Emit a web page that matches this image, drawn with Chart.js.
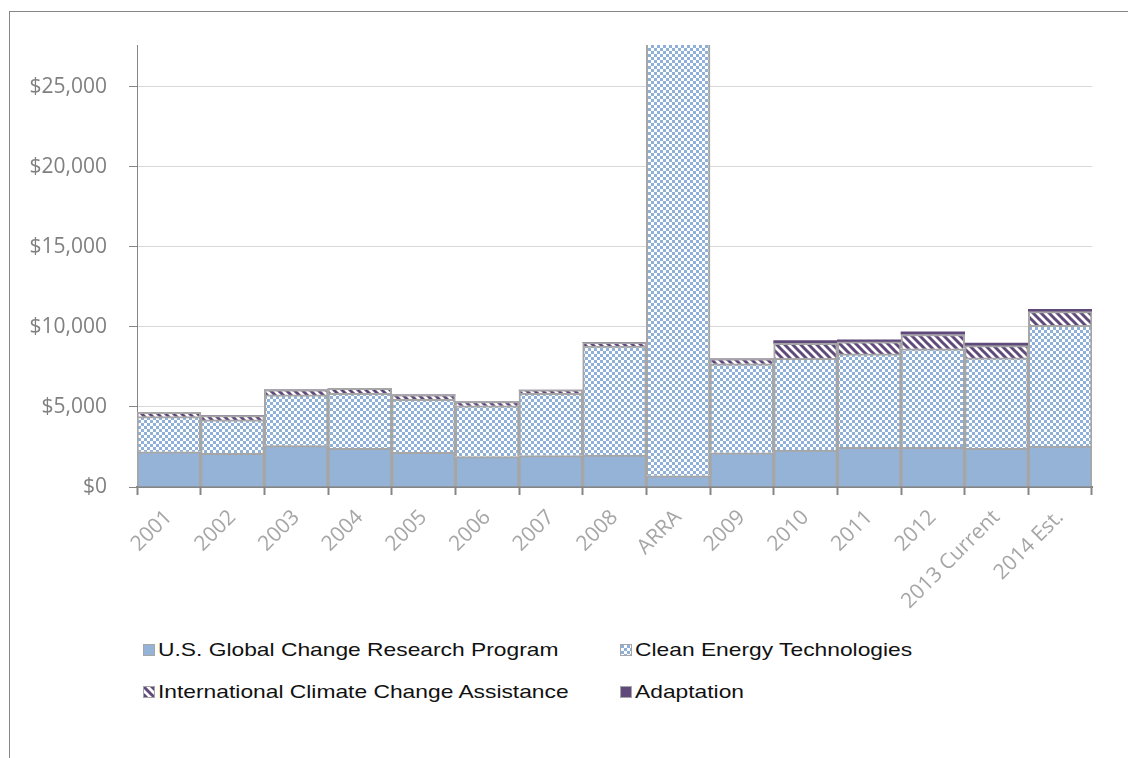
<!DOCTYPE html>
<html>
<head>
<meta charset="utf-8">
<script src="https://cdn.jsdelivr.net/npm/chart.js@4/dist/chart.umd.min.js"></script>
<style>
  html, body { margin: 0; padding: 0; background: #fff; }
  body { width: 1128px; height: 758px; position: relative; overflow: hidden; }
  #frame { position: absolute; left: 9px; top: 11px; width: 1200px; height: 900px; border: 1px solid #868686; }
  #wrap { position: absolute; left: 0; top: 0; width: 1128px; height: 625px; }
  #legend { position: absolute; left: 143px; top: 638px; font-family: "Liberation Sans", Arial, sans-serif; font-size: 19px; color: #111; }
  .item { position: absolute; white-space: nowrap; display: flex; align-items: center; height: 24px; }
  .box { width: 12px; height: 12px; margin-right: 3px; box-sizing: border-box; border: 1px solid #a6a6a6; }
  .txt { display: inline-block; transform: scaleX(1.2); transform-origin: left center; }
</style>
</head>
<body>
<div id="frame"></div>
<div id="wrap"><canvas id="chart" width="1128" height="625"></canvas></div>
<div id="legend"></div>
<script>
const categories = ["2001", "2002", "2003", "2004", "2005", "2006", "2007", "2008", "ARRA", "2009", "2010", "2011", "2012", "2013 Current", "2014 Est."];
const usgcrp = [2200, 2100, 2580, 2420, 2170, 1900, 1960, 2000, 700, 2140, 2310, 2480, 2480, 2420, 2560];
const cleanEnergy = [2190, 2090, 3170, 3430, 3310, 3170, 3890, 6800, 27000, 5550, 5730, 5830, 6150, 5640, 7540];
const intlAssistance = [280, 270, 310, 310, 270, 270, 200, 220, 0, 310, 930, 750, 890, 770, 850];
const adaptation = [0, 0, 0, 0, 0, 0, 0, 0, 0, 0, 170, 130, 170, 150, 150];
const yTicks = [0, 5000, 10000, 15000, 20000, 25000];

const blue = "#95b3d7";
const purple = "#604a7b";

function makeTile(size, draw) {
  const c = document.createElement("canvas");
  c.width = size;
  c.height = size;
  const g = c.getContext("2d");
  draw(g);
  return c;
}

const checkTile = makeTile(6, (g) => {
  g.fillStyle = "#ffffff";
  g.fillRect(0, 0, 6, 6);
  g.fillStyle = "#8fb0d8";
  g.fillRect(0, 0, 3, 3);
  g.fillRect(3, 3, 3, 3);
});

const stripeTile = makeTile(8, (g) => {
  g.fillStyle = "#ffffff";
  g.fillRect(0, 0, 8, 8);
  g.strokeStyle = purple;
  g.lineWidth = 3;
  g.beginPath();
  g.moveTo(-2, -2); g.lineTo(10, 10);
  g.moveTo(-2, 6); g.lineTo(2, 10);
  g.moveTo(6, -2); g.lineTo(10, 2);
  g.stroke();
});

const ctx = document.getElementById("chart").getContext("2d");
const checkPattern = ctx.createPattern(checkTile, "repeat");
const stripePattern = ctx.createPattern(stripeTile, "repeat");

const series = [
  { label: "U.S. Global Change Research Program", data: usgcrp, fill: blue, css: blue },
  { label: "Clean Energy Technologies", data: cleanEnergy, fill: checkPattern, css: `url(${checkTile.toDataURL()})` },
  { label: "International Climate Change Assistance", data: intlAssistance, fill: stripePattern, css: `url(${stripeTile.toDataURL()})` },
  { label: "Adaptation", data: adaptation, fill: purple, css: purple },
];

new Chart(ctx, {
  type: "bar",
  data: {
    labels: categories,
    datasets: series.map((s, i) => ({
      label: s.label,
      data: s.data,
      backgroundColor: s.fill,
      borderColor: "#a6a6a6",
      borderWidth: i === 3 ? 0 : 2,
      categoryPercentage: 1,
      barPercentage: 1,
    })),
  },
  options: {
    responsive: false,
    animation: false,
    layout: { padding: { top: 45, right: 36, left: 0, bottom: 0 } },
    plugins: { legend: { display: false }, tooltip: { enabled: false } },
    scales: {
      x: {
        stacked: true,
        afterFit: (s) => { s.height = 138; },
        border: { color: "#868686", width: 2 },
        grid: { drawOnChartArea: false, drawTicks: true, tickLength: 8, tickColor: "#868686", tickWidth: 2 },
        ticks: {
          autoSkip: false,
          minRotation: 45,
          maxRotation: 45,
          padding: 10,
          color: "#a6a6a6",
          font: { family: "'Open Sans', sans-serif", size: 21 },
        },
      },
      y: {
        stacked: true,
        min: 0,
        max: 27600,
        afterFit: (s) => { s.width = 137; },
        afterBuildTicks: (s) => { s.ticks = yTicks.map((v) => ({ value: v })); },
        border: { color: "#868686", width: 1 },
        grid: { color: "#d9d9d9", lineWidth: 1, tickLength: 8, tickColor: "#868686" },
        ticks: {
          padding: 22,
          color: "#808080",
          font: { family: "'Open Sans', sans-serif", size: 21 },
          callback: (v) => "$" + v.toLocaleString("en-US"),
        },
      },
    },
  },
});

const legend = document.getElementById("legend");
const pos = [[0, 0], [477, 0], [0, 42], [477, 42]];
series.forEach((s, i) => {
  const item = document.createElement("div");
  item.className = "item";
  item.style.left = pos[i][0] + "px";
  item.style.top = pos[i][1] + "px";
  const box = document.createElement("span");
  box.className = "box";
  box.style.background = s.css;
  const text = document.createElement("span");
  text.className = "txt";
  text.textContent = s.label;
  item.appendChild(box);
  item.appendChild(text);
  legend.appendChild(item);
});
</script>
</body>
</html>
